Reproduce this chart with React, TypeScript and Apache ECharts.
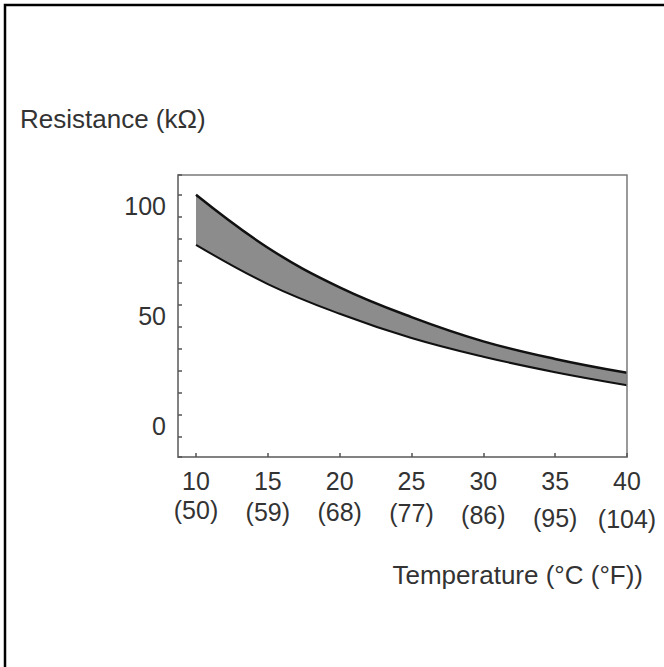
import React, { useEffect, useRef } from "react";
import * as echarts from "echarts";

const TEMPS_C = [10, 15, 20, 25, 30, 35, 40];
const TEMPS_F = [50, 59, 68, 77, 86, 95, 104];
const UPPER_KOHM = [100, 76, 58, 44.5, 33.5, 25.5, 19.2];
const LOWER_KOHM = [77.3, 59.5, 46, 35, 26.5, 19.5, 13.6];
const Y_LABELS = [0, 50, 100];
const Y_TITLE = "Resistance (kΩ)";
const X_TITLE = "Temperature (°C (°F))";

const FONT = "'Liberation Sans', Arial, sans-serif";
const TEXT_COLOR = "#333";
const AXIS_COLOR = "#7a7a7a";

export default function App() {
  const ref = useRef<HTMLDivElement>(null);

  useEffect(() => {
    if (!ref.current) return;
    const chart = echarts.init(ref.current, null, { renderer: "svg" });

    const lowerData = TEMPS_C.map((t, i) => [t, LOWER_KOHM[i]]);
    const upperData = TEMPS_C.map((t, i) => [t, UPPER_KOHM[i]]);

    // grid spans x 178..627 px; choose axis min so that 10 °C lands exactly on x = 196 px
    const gridLeft = 178;
    const gridRight = 627;
    const firstPx = 196;
    const xMax = 40;
    const frac = (firstPx - gridLeft) / (gridRight - gridLeft);
    const xMin = (10 - frac * xMax) / (1 - frac);

    const line2Heights = [32, 36, 36, 38, 42, 48, 50];
    const rich: Record<string, any> = {
      a: { fontSize: 25, fontFamily: FONT, color: TEXT_COLOR, lineHeight: 27 },
    };
    line2Heights.forEach((h, i) => {
      rich["b" + i] = { fontSize: 25, fontFamily: FONT, color: TEXT_COLOR, lineHeight: h };
    });

    chart.setOption({
      animation: false,
      backgroundColor: "#fff",
      grid: {
        left: gridLeft,
        top: 175,
        right: 664 - gridRight,
        bottom: 210,
        show: true,
        z: 5,
        borderColor: AXIS_COLOR,
        borderWidth: 1.5,
        containLabel: false,
        outerBoundsMode: "none",
      },
      xAxis: {
        type: "value",
        min: xMin,
        max: xMax,
        minInterval: 5,
        maxInterval: 5,
        z: 6,
        splitLine: { show: false },
        axisLine: { show: true, onZero: false, lineStyle: { color: AXIS_COLOR, width: 1.5 } },
        axisTick: { show: true, inside: true, length: 4, lineStyle: { color: "#555", width: 1.5 } },
        axisLabel: {
          margin: 10,
          showMinLabel: false,
          rich,
          formatter: (v: number) => {
            const i = TEMPS_C.indexOf(v);
            if (i < 0) return "";
            return `{a|${TEMPS_C[i]}}\n{b${i}|(${TEMPS_F[i]})}`;
          },
        },
      },
      yAxis: {
        type: "value",
        min: -19,
        max: 109,
        minInterval: 10,
        maxInterval: 10,
        z: 6,
        splitLine: { show: false },
        axisLine: { show: true, onZero: false, lineStyle: { color: AXIS_COLOR, width: 1.5 } },
        axisTick: { show: true, inside: true, length: 4, lineStyle: { color: "#555", width: 1.5 } },
        axisLabel: {
          margin: 12,
          fontSize: 25,
          fontFamily: FONT,
          color: TEXT_COLOR,
          verticalAlign: "top",
          lineHeight: 22,
          formatter: (v: number) => (Y_LABELS.indexOf(v) >= 0 ? String(v) : ""),
        },
      },
      graphic: [
        {
          type: "rect",
          shape: { x: 5, y: 5, width: 720, height: 720 },
          style: { fill: "none", stroke: "#000", lineWidth: 2.5 },
          silent: true,
        },
        {
          type: "text",
          x: 20,
          y: 119,
          style: {
            text: Y_TITLE,
            fontSize: 26,
            fontFamily: FONT,
            fill: TEXT_COLOR,
            align: "left",
            verticalAlign: "middle",
          },
        },
        {
          type: "text",
          x: 643,
          y: 575,
          style: {
            text: X_TITLE,
            fontSize: 26,
            fontFamily: FONT,
            fill: TEXT_COLOR,
            align: "right",
            verticalAlign: "middle",
          },
        },
      ],
      series: [
        {
          name: "upper",
          type: "line",
          data: upperData,
          smooth: 0.4,
          symbol: "none",
          lineStyle: { color: "#111", width: 2.5 },
          areaStyle: { color: "#8c8c8c", opacity: 1, origin: "start" },
          z: 2,
        },
        {
          name: "lower",
          type: "line",
          data: lowerData,
          smooth: 0.4,
          symbol: "none",
          lineStyle: { color: "#111", width: 2 },
          areaStyle: { color: "#ffffff", opacity: 1, origin: "start" },
          z: 3,
        },
      ],
    });

    return () => chart.dispose();
  }, []);

  return (
    <div
      ref={ref}
      style={{ position: "absolute", left: 0, top: 0, width: 664, height: 667 }}
    />
  );
}
